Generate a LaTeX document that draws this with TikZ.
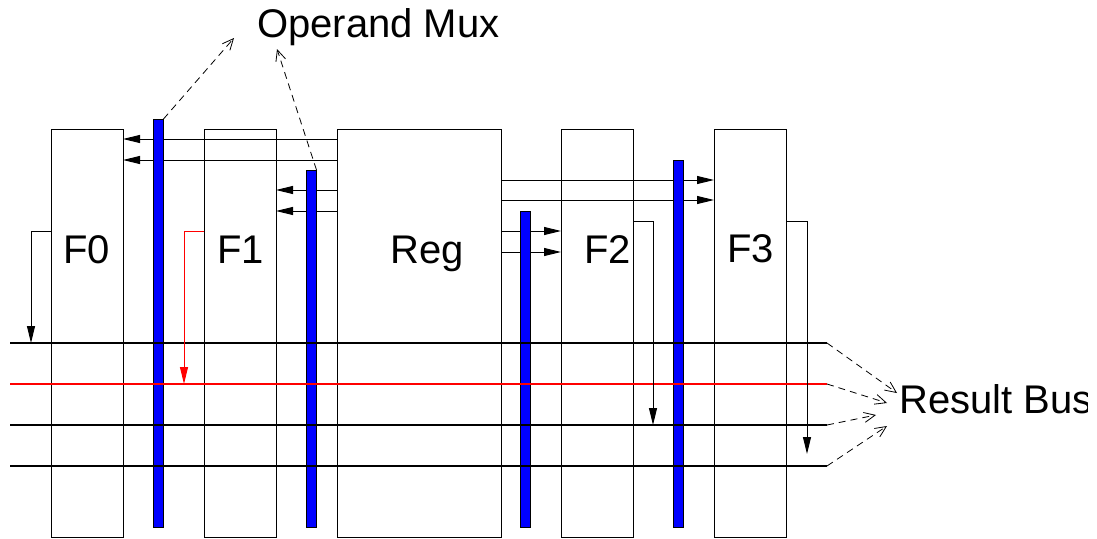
\documentclass[tikz,border=0pt]{standalone}
\usepackage{fontspec}
\setmainfont{Liberation Sans}
\usetikzlibrary{arrows.meta}
\begin{document}
\begin{tikzpicture}[x=1pt,y=-1pt,
 box/.style={draw,line width=1pt,minimum width=72pt,minimum height=408pt,inner sep=0pt,outer sep=0pt,anchor=north west},
 bar/.style={draw=black,fill=blue,line width=0.8pt,minimum width=10.5pt,inner sep=0pt,outer sep=0pt,anchor=north west},
 lab/.style={font=\fontsize{40}{40}\selectfont,anchor=base west,inner sep=0pt},
 arr/.style={line width=1pt,-{Triangle[length=17pt,width=8pt]}},
 dasharr/.style={line width=0.8pt,dash pattern=on 7pt off 5pt,-{Straight Barb[length=11pt,width=10pt]}},
 bus/.style={line width=1.8pt},
]
\useasboundingbox (0,0) rectangle (1097,538);
% boxes
\node[box] (F0) at (51,129) {};
\node[box] (F1) at (204,129) {};
\node[box,minimum width=164pt] (Reg) at (337,129) {};
\node[box] (F2) at (561,129) {};
\node[box] (F3) at (714,129) {};
% levels
\coordinate (ya) at (0,139);
\coordinate (yb) at (0,160);
\coordinate (yc) at (0,190);
\coordinate (yd) at (0,211);
\coordinate (ye) at (0,180);
\coordinate (yf) at (0,200);
\coordinate (yg) at (0,231);
\coordinate (yh) at (0,252);
\coordinate (yo) at (0,231);
\coordinate (yp) at (0,221);
% operand arrows
\draw[arr] (Reg.west |- ya) -- (F0.east |- ya);
\draw[arr] (Reg.west |- yb) -- (F0.east |- yb);
\draw[arr] (Reg.west |- yc) -- (F1.east |- yc);
\draw[arr] (Reg.west |- yd) -- (F1.east |- yd);
\draw[arr] (Reg.east |- ye) -- (F3.west |- ye);
\draw[arr] (Reg.east |- yf) -- (F3.west |- yf);
\draw[arr] (Reg.east |- yg) -- (F2.west |- yg);
\draw[arr] (Reg.east |- yh) -- (F2.west |- yh);
% mux bars
\node[bar,minimum height=408pt] (bar1) at (153,119) {};
\node[bar,minimum height=357pt] (bar2) at (306,170) {};
\node[bar,minimum height=316pt] (bar3) at (520,211) {};
\node[bar,minimum height=367pt] (bar4) at (673,160) {};
% buses
\coordinate (b1w) at (10,343); \coordinate (b1e) at (827,343);
\coordinate (b2w) at (10,384); \coordinate (b2e) at (827,384);
\coordinate (b3w) at (10,425); \coordinate (b3e) at (827,425);
\coordinate (b4w) at (10,466); \coordinate (b4e) at (827,466);
\draw[bus] (b1w) -- (b1e);
\draw[line width=1.5pt,red] (b2w) -- (b2e);
\draw[bus] (b3w) -- (b3e);
\draw[bus] (b4w) -- (b4e);
% result taps
\coordinate (t0) at (31,343);
\coordinate (t1) at (184,384);
\coordinate (t2) at (653,425);
\coordinate (t3) at (807,454);
\draw[arr] (F0.west |- yo) -| (t0);
\draw[arr,red] (F1.west |- yo) -| (t1);
\draw[arr] (F2.east |- yp) -| (t2);
\draw[arr] (F3.east |- yp) -| (t3);
% labels
\node[lab] (l0) at (63,263) {F0};
\node[lab] (l1) at (217,263) {F1};
\node[lab] (lr) at (390,263) {Reg};
\node[lab] (l2) at (584,263) {F2};
\node[lab] (l3) at (727,262) {F3};
\node[lab] (mux) at (257,37) {Operand Mux};
\begin{scope}
\clip (0,0) rectangle (1087,538);
\node[lab] (rbus) at (899,413) {Result Bus};
\end{scope}
% dashed pointers
\coordinate (m1) at (234,38);
\coordinate (m2) at (277,49);
\draw[dasharr] (bar1.north east) -- (m1);
\draw[dasharr] (bar2.north east) -- (m2);
\coordinate (r1) at (897,393);
\coordinate (r2) at (887,403);
\coordinate (r3) at (876,415);
\coordinate (r4) at (887,426);
\draw[dasharr] (b1e) -- (r1);
\draw[dasharr] (b2e) -- (r2);
\draw[dasharr] (b3e) -- (r3);
\draw[dasharr] (b4e) -- (r4);
\end{tikzpicture}
\end{document}
